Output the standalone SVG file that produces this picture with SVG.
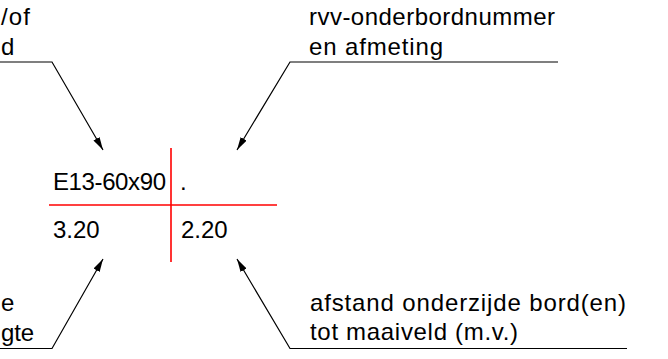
<svg xmlns="http://www.w3.org/2000/svg" width="668" height="359" viewBox="0 0 668 359">
<style>
text{font-family:"Liberation Sans",Arial,sans-serif;font-size:24px;fill:#000}
.ld{fill:none;stroke:#000;stroke-width:1.2}
.red{stroke:#ff0000;stroke-width:1.6;fill:none}
</style>
<defs>
<marker id="ah" markerUnits="userSpaceOnUse" markerWidth="14" markerHeight="8" refX="13" refY="3.5" orient="auto">
<path d="M0,0 L13,3.5 L0,7 z" fill="#000"/>
</marker>
</defs>
<rect width="668" height="359" fill="#fff"/>
<g id="label-top-left">
<text x="1" y="25" textLength="29" lengthAdjust="spacing">/of</text>
<text x="1" y="55">d</text>
</g>
<g id="label-top-right">
<text x="309" y="25" textLength="246" lengthAdjust="spacing">rvv-onderbordnummer</text>
<text x="309" y="55" textLength="134" lengthAdjust="spacing">en afmeting</text>
</g>
<g id="label-bottom-left">
<text x="1" y="311">e</text>
<text x="1" y="341" textLength="33" lengthAdjust="spacing">gte</text>
</g>
<g id="label-bottom-right">
<text x="310" y="311" textLength="316" lengthAdjust="spacing">afstand onderzijde bord(en)</text>
<text x="310" y="340" textLength="208" lengthAdjust="spacing">tot maaiveld (m.v.)</text>
</g>
<g id="cross">
<line class="red" x1="171" y1="148" x2="171" y2="262"/>
<line class="red" x1="49" y1="205" x2="277" y2="205"/>
<text x="53" y="190" textLength="113" lengthAdjust="spacing">E13-60x90</text>
<text x="180" y="190">.</text>
<text x="53" y="238">3.20</text>
<text x="181" y="238">2.20</text>
</g>
<g id="connectors">
<polyline class="ld" points="0,62 52,62 103,150" marker-end="url(#ah)"/>
<polyline class="ld" points="558,62 290,62 237,150" marker-end="url(#ah)"/>
<polyline class="ld" points="0,348.5 52,348.5 103,259" marker-end="url(#ah)"/>
<polyline class="ld" points="627,348.5 290,348.5 237,259" marker-end="url(#ah)"/>
</g>
</svg>
